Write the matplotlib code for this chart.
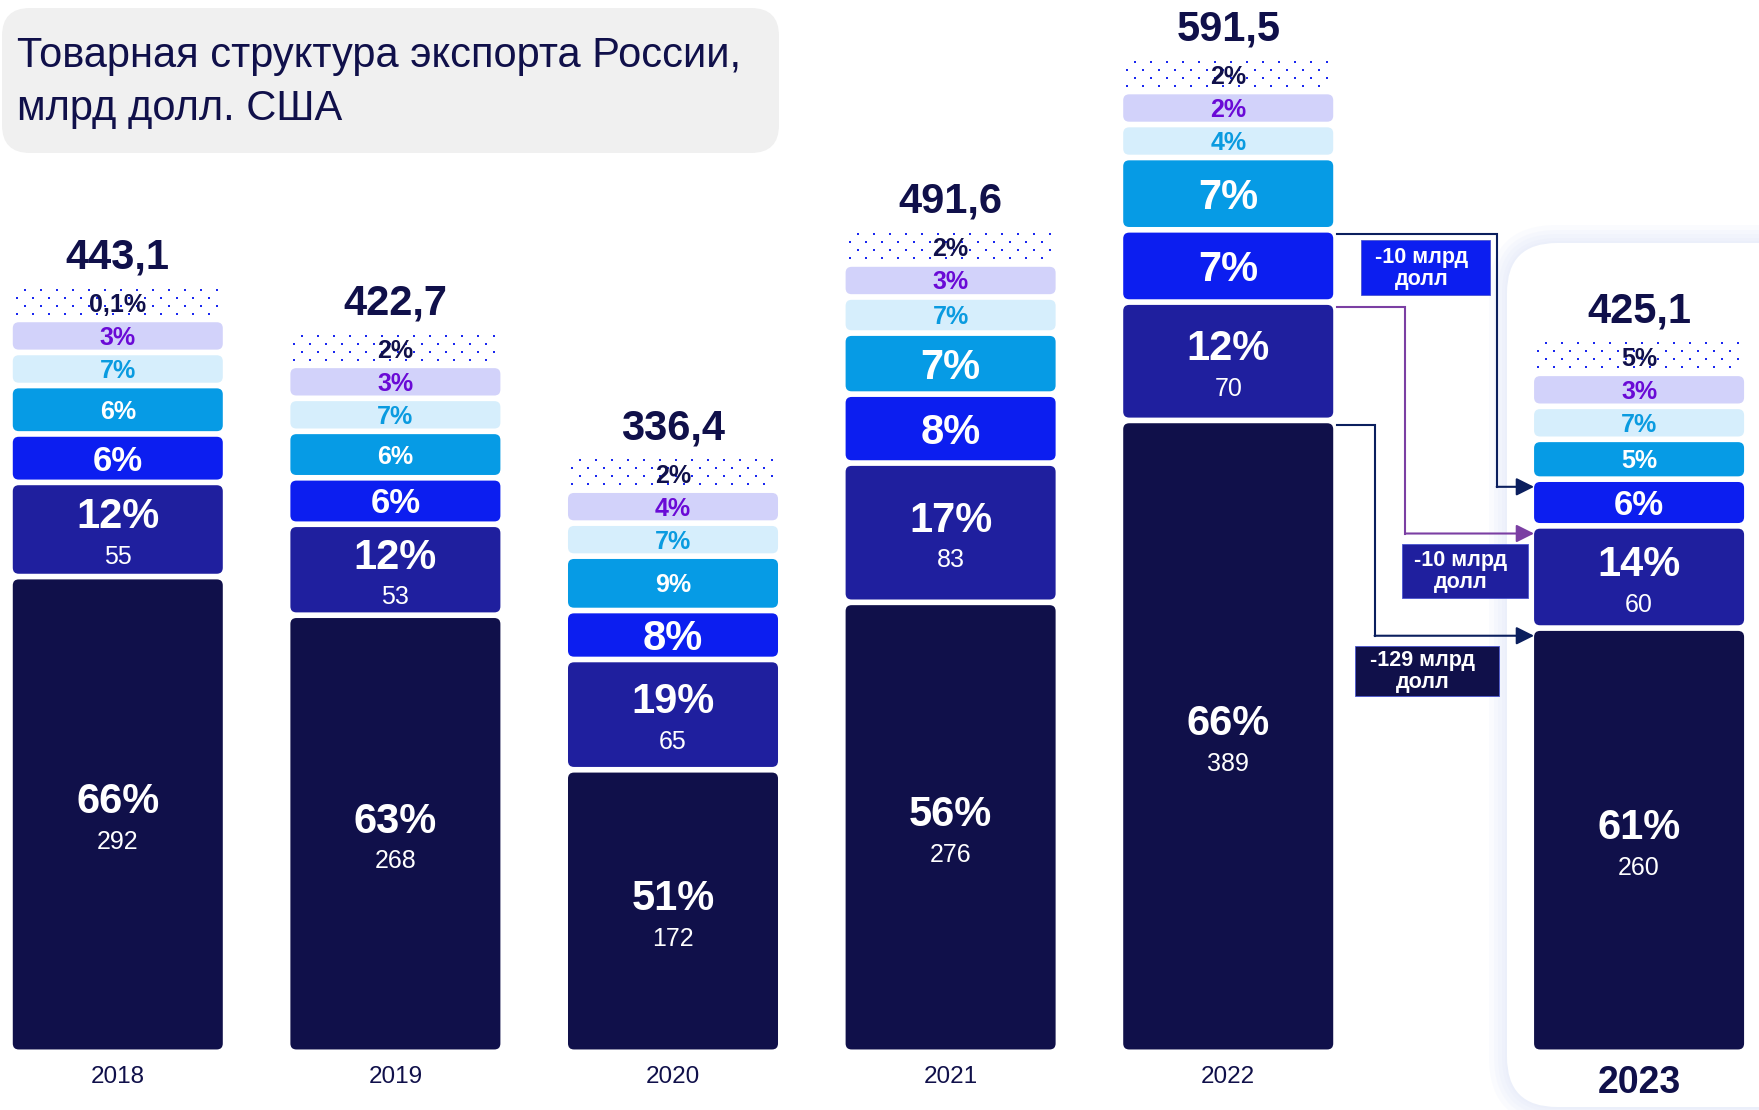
import matplotlib.pyplot as plt
import numpy as np
from matplotlib.patches import FancyBboxPatch

years = ['2018', '2019', '2020', '2021', '2022', '2023']
totals = [443.1, 422.7, 336.4, 491.6, 591.5, 425.1]

# shares, %, from the bottom layer to the top one
share_dark = [66, 63, 51, 56, 66, 61]
share_indigo = [12, 12, 19, 17, 12, 14]
share_blue = [6, 6, 8, 8, 7, 6]
share_cyan = [6, 6, 9, 7, 7, 5]
share_light = [7, 7, 7, 7, 4, 7]
share_lavender = [3, 3, 4, 3, 2, 3]
share_dotted = [0.1, 2, 2, 2, 2, 5]

# bn USD printed in the two lower layers
value_dark = [292, 268, 172, 276, 389, 260]
value_indigo = [55, 53, 65, 83, 70, 60]

change_labels = ['-10 млрд\nдолл', '-10 млрд\nдолл', '-129 млрд\nдолл']

W, H = 1759, 1110
XMIN, XMAX = -0.4243, 5.912
YMIN, YMAX = -37.6, 651.9
PX = W / (XMAX - XMIN)   # pixels per x unit
PY = H / (YMAX - YMIN)   # pixels per y unit

NAVY = '#10104a'
colors = ['#10104a', '#1f1f9e', '#0c1ef0', '#069be5', '#d6eefc', '#d2d2fa', 'white']
text_colors = ['white', 'white', 'white', 'white', '#0a9be0', '#6a0ad6', NAVY]

BW = 0.7565
GAP = 3.5
FLOOR = 17          # smallest band for the thin upper layers
SQUEEZE = 0.55      # the three upper layers are drawn compressed
xpos = np.array([0, 1, 2, 3, 4, 5.48])

plt.rcParams['font.family'] = ['Liberation Sans', 'DejaVu Sans']
NARROW = ['Liberation Sans Narrow', 'Liberation Sans', 'DejaVu Sans']

fig = plt.figure(figsize=(W / 100, H / 100), dpi=100)
fig.patch.set_facecolor('white')

# background layer in pixel coordinates
bg = fig.add_axes([0, 0, 1, 1], zorder=0)
bg.set_xlim(0, W)
bg.set_ylim(H, 0)
bg.axis('off')

bg.add_patch(FancyBboxPatch((2, 8), 777, 145, boxstyle='round,pad=0,rounding_size=28',
                            fc='#f0f0f0', ec='none'))
bg.text(17, 56, 'Товарная структура экспорта России,', fontsize=30, color=NAVY,
        va='center', ha='left', family=NARROW)
bg.text(17, 109, 'млрд долл. США', fontsize=30, color=NAVY,
        va='center', ha='left', family=NARROW)

# highlighted 2023 panel with soft glow
for pad in [18, 13, 9, 5, 2]:
    bg.add_patch(FancyBboxPatch((1507, 243), 400, 864,
                                boxstyle=f'round,pad={pad},rounding_size={50 + pad}',
                                fc='#dde4f8', ec='none', alpha=0.14))
bg.add_patch(FancyBboxPatch((1507, 243), 400, 864, boxstyle='round,pad=0,rounding_size=50',
                            fc='white', ec='none'))

# main chart
ax = fig.add_axes([0, 0, 1, 1], zorder=1)
ax.set_facecolor('none')
ax.set_xlim(XMIN, XMAX)
ax.set_ylim(YMIN, YMAX)
ax.axis('off')


def put(x, yc, s, size, color, weight='bold', family=None):
    # place text so that the digits are visually centred on yc
    cap = 0.716 * size * 100 / 72 / PY
    ax.text(x, yc - cap / 2, s, ha='center', va='baseline', fontsize=size,
            color=color, fontweight=weight, family=family)


def fmt(p):
    return (f'{p:g}').replace('.', ',') + '%'


def to_px(y):
    return (YMAX - y) * PY


tops = []
for i, yr in enumerate(years):
    shares = [share_dark[i], share_indigo[i], share_blue[i], share_cyan[i],
              share_light[i], share_lavender[i], share_dotted[i]]
    vals = [s * totals[i] / 100 for s in shares]
    heights = [value_dark[i], value_indigo[i], vals[2], vals[3]] + \
        [max(SQUEEZE * v, FLOOR) for v in vals[4:]]
    x = xpos[i]
    bottom = 0
    seg_tops = []
    for j, (s, h) in enumerate(zip(shares, heights)):
        if j < 6:
            ax.add_patch(FancyBboxPatch((x - BW / 2, bottom), BW, h,
                                        boxstyle=f'round,pad=0,rounding_size={6 / PX}',
                                        mutation_aspect=PX / PY,
                                        fc=colors[j], ec='none'))
        else:
            # dotted layer
            xs = np.arange(x - BW / 2 + 4 / PX, x + BW / 2, 16 / PX)
            rows = np.arange(bottom + 3 / PY, bottom + h, 8 / PY)
            for k, yy in enumerate(rows):
                xr = xs + (8 / PX if k % 2 else 0)
                xr = xr[xr < x + BW / 2]
                ax.scatter(xr, np.full_like(xr, yy), s=4, marker='s', color='#1a28f0',
                           linewidths=0, zorder=2)
        yc = bottom + h / 2
        if j < 2:
            put(x, yc + 10, fmt(s), 30, 'white')
            put(x, yc - 16, str([value_dark, value_indigo][j][i]), 18, 'white', weight='normal')
        else:
            if j == 2:
                size = 30 if s >= 7 else 25
            elif j == 3:
                size = 30 if h >= 34 else 18
            else:
                size = 18
            put(x, yc, fmt(s), size, text_colors[j])
        seg_tops.append(bottom + h)
        bottom += h + (GAP if j < 6 else 0)
    tops.append(seg_tops)
    top = seg_tops[-1]
    ax.text(x, top + 13, f'{totals[i]:.1f}'.replace('.', ','), ha='center', va='baseline',
            fontsize=30, fontweight='bold', color=NAVY)
    if yr == '2023':
        ax.annotate(yr, (x, 0), xytext=(0, -34 * 0.72), textcoords='offset points',
                    ha='center', va='center', fontsize=27, fontweight='bold', color=NAVY)
    else:
        ax.annotate(yr, (x, 0), xytext=(0, -28 * 0.72), textcoords='offset points',
                    ha='center', va='center', fontsize=17.5, color=NAVY, family=NARROW)

# connectors from 2022 to 2023
x_r = xpos[4] + BW / 2
x_l = xpos[5] - BW / 2
gapw = x_l - x_r
links = [(2, 0.814, '#0b1f5e'), (1, 0.358, '#7b3fa3'), (0, 0.206, '#0b1f5e')]
link_y = []
for layer, frac, c in links:
    xv = x_r + frac * gapw
    ys = tops[4][layer] - 1
    ye = tops[5][layer] - 3
    link_y.append((ys, ye))
    ax.plot([x_r + 4 / PX, xv, xv], [ys, ys, ye], color=c, lw=1.5,
            solid_joinstyle='miter', zorder=3)
    ax.annotate('', xy=(x_l, ye), xytext=(xv, ye),
                arrowprops=dict(arrowstyle='-|>', color=c, lw=1.5, mutation_scale=27,
                                shrinkA=0, shrinkB=0), zorder=3)

# change boxes, pixel coordinates, hung under the connector lines
fg = fig.add_axes([0, 0, 1, 1], zorder=2)
fg.set_facecolor('none')
fg.set_xlim(0, W)
fg.set_ylim(H, 0)
fg.axis('off')
boxes = [(1361, 129, 55, to_px(link_y[0][0]) + 6, '#0c1ef0'),
         (1402, 126, 54, to_px(link_y[1][1]) + 10, '#1f1f9e'),
         (1355, 144, 50, to_px(link_y[2][1]) + 10, NAVY)]
for (bx, bw, bh, by, fc_), lab in zip(boxes, change_labels):
    fg.add_patch(FancyBboxPatch((bx, by), bw, bh, boxstyle='square,pad=0',
                                fc=fc_, ec='#4a55d0', lw=0.6))
    fg.text(bx + bw / 2 - 4, by + bh / 2 + 1, lab, ha='center', va='center', fontsize=15.5,
            fontweight='bold', color='white', linespacing=1.05)

fig.savefig('out.png', dpi=100)
